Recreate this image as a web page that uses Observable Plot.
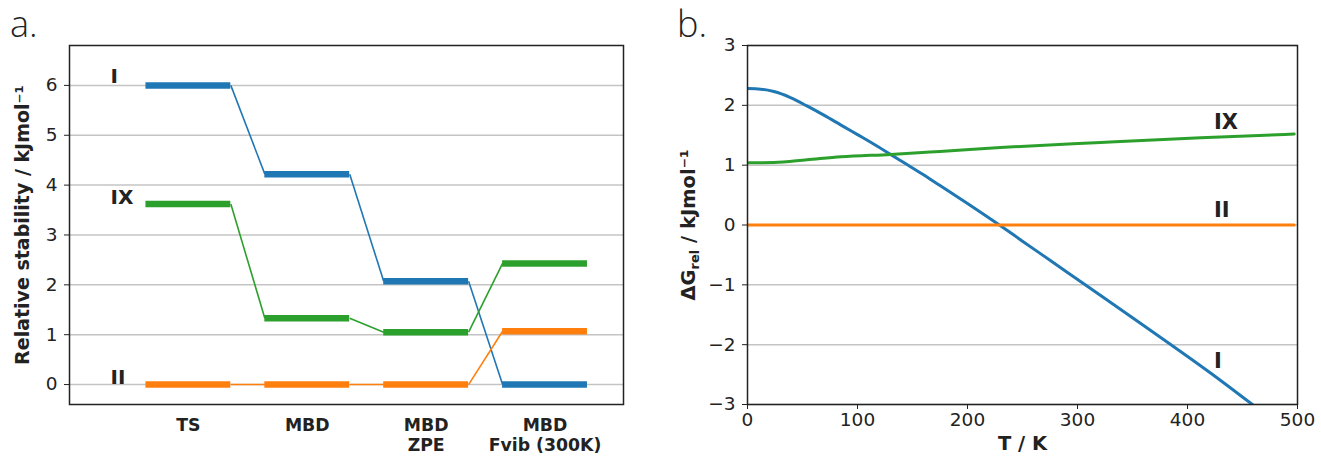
<!DOCTYPE html>
<html><head><meta charset="utf-8">
<script src="https://cdn.jsdelivr.net/npm/d3@7"></script>
<script src="https://cdn.jsdelivr.net/npm/@observablehq/plot@0.6"></script>
<style>
body{margin:0;background:#fff;}
#wrap{position:relative;width:1321px;height:459px;overflow:hidden;font-family:"DejaVu Sans",sans-serif;}
.panel{position:absolute;top:0;}
.tag{position:absolute;font-family:"Open Sans","DejaVu Sans",sans-serif;font-weight:300;font-size:36px;color:#222;line-height:1;}
</style></head><body>
<div id="wrap">
<div id="pa" class="panel" style="left:0"></div>
<div id="pb" class="panel" style="left:660px"></div>
<div class="tag" style="left:10px;top:6px">a.</div>
<div class="tag" style="left:677px;top:6px">b.</div>
</div>
<script>
// ---- Panel a data ----
const categories = ["TS", "MBD", "MBD\nZPE", "MBD\nFvib (300K)"];
const seriesNames = ["I", "IX", "II"];
const seriesColors = ["#1f77b4", "#2ca02c", "#ff7f0e"];
const stabilityI = [6.0, 4.22, 2.07, 0.0];
const stabilityIX = [3.62, 1.33, 1.05, 2.43];
const stabilityII = [0.0, 0.0, 0.0, 1.07];
const yTicksA = [0, 1, 2, 3, 4, 5, 6];
const labelYA = [6.17, 3.75, 0.14];
const labelXA = -0.655;

// ---- Panel b data ----
const tempI = [0, 12, 24, 39, 54, 69, 85, 100, 115, 130, 145, 160, 175, 200, 229, 250, 275, 307, 350, 385, 420, 459];
const dgI = [2.28, 2.27, 2.23, 2.13, 1.99, 1.84, 1.67, 1.51, 1.35, 1.18, 1.01, 0.84, 0.66, 0.36, 0.0, -0.27, -0.59, -1.0, -1.55, -2.0, -2.46, -3.0];
const tempIX = [0, 24, 54, 85, 130, 175, 230, 321, 412, 497];
const dgIX = [1.04, 1.045, 1.09, 1.14, 1.18, 1.23, 1.295, 1.38, 1.46, 1.52];
const tempII = [0, 497];
const dgII = [0.0, 0.0];
const xTicksB = [0, 100, 200, 300, 400, 500];
const yTicksB = [-3, -2, -1, 0, 1, 2, 3];
const labelTB = 424;
const labelYB = [-2.27, 1.71, 0.24];

const color = {domain: seriesNames, range: seriesColors};
const minus = d => d < 0 ? "\u2212" + Math.abs(d) : String(d);
const HW = 0.357;

// Panel a
const seriesA = [stabilityI, stabilityIX, stabilityII];
const rowsA = [], linksA = [];
seriesNames.forEach((s, k) => {
  seriesA[k].forEach((v, i) => rowsA.push({s, i, v}));
  for (let i = 0; i < categories.length - 1; i++) linksA.push({s, i, v1: seriesA[k][i], v2: seriesA[k][i + 1]});
});

const plotA = Plot.plot({
  width: 660, height: 459,
  marginLeft: 69, marginRight: 37, marginTop: 45, marginBottom: 55,
  style: {fontFamily: "DejaVu Sans, sans-serif", background: "transparent", color: "#222", overflow: "visible"},
  x: {domain: [-1.0, 3.66], axis: null},
  y: {domain: [-0.40, 6.80]},
  color,
  marks: [
    Plot.gridY(yTicksA, {stroke: "#c4c4c4", strokeOpacity: 1, strokeWidth: 1.5}),
    Plot.link(linksA, {x1: d => d.i + HW, x2: d => d.i + 1 - HW, y1: "v1", y2: "v2", stroke: "s", strokeWidth: 1.6}),
    Plot.ruleY(rowsA, {y: "v", x1: d => d.i - HW, x2: d => d.i + HW, stroke: "s", strokeWidth: 6.5}),
    Plot.axisY(yTicksA, {tickSize: 5, tickPadding: 7, fontSize: 18.5, label: null, tickFormat: minus}),
    Plot.text(categories, {x: (d, i) => i, frameAnchor: "bottom", dy: 12, lineAnchor: "top", fontWeight: "bold", fontSize: 17.3, lineHeight: 1.17}),
    Plot.text(seriesNames, {x: labelXA, y: labelYA, textAnchor: "start", fontWeight: "bold", fontSize: 20}),
    Plot.text(["Relative stability / kJmol\u207B\u00B9"], {frameAnchor: "left", textAnchor: "middle", dx: -47, rotate: -90, fontWeight: "bold", fontSize: 19}),
    Plot.frame({stroke: "#222", strokeWidth: 1.5, strokeOpacity: 1})
  ]
});
document.getElementById("pa").appendChild(plotA);

// Panel b
const rowsB = [];
[[tempI, dgI, "I"], [tempIX, dgIX, "IX"], [tempII, dgII, "II"]].forEach(([ts, vs, s]) =>
  ts.forEach((t, j) => rowsB.push({s, t, v: vs[j]})));

const plotB = Plot.plot({
  width: 661, height: 459,
  marginLeft: 87, marginRight: 24, marginTop: 45, marginBottom: 55,
  style: {fontFamily: "DejaVu Sans, sans-serif", background: "transparent", color: "#222", overflow: "visible"},
  x: {domain: [0, 500]},
  y: {domain: [-3, 3]},
  color,
  marks: [
    Plot.gridY(yTicksB, {stroke: "#c4c4c4", strokeOpacity: 1, strokeWidth: 1.5}),
    Plot.line(rowsB, {x: "t", y: "v", z: "s", stroke: "s", strokeWidth: 3, clip: true, curve: "monotone-x"}),
    Plot.axisY(yTicksB, {tickSize: 5, tickPadding: 7, fontSize: 18.5, label: null, tickFormat: minus}),
    Plot.axisX(xTicksB, {tickSize: 5, tickPadding: 3, fontSize: 18.5, label: null}),
    Plot.text(seriesNames, {x: labelTB, y: labelYB, textAnchor: "start", fontWeight: "bold", fontSize: 21}),
    Plot.text(["\u0394Grel / kJmol\u207B\u00B9"], {frameAnchor: "left", textAnchor: "middle", dx: -59, rotate: -90, fontWeight: "bold", fontSize: 19.5}),
    Plot.text(["T / K"], {frameAnchor: "bottom", dy: 45, fontWeight: "bold", fontSize: 19.5}),
    Plot.frame({stroke: "#222", strokeWidth: 1.5, strokeOpacity: 1})
  ]
});
document.getElementById("pb").appendChild(plotB);

// subscript "rel" in the ΔG label
const NS = "http://www.w3.org/2000/svg";
plotB.querySelectorAll("text").forEach(t => {
  if (t.textContent === "\u0394Grel / kJmol\u207B\u00B9") {
    t.textContent = "";
    t.appendChild(document.createTextNode("\u0394G"));
    const sub = document.createElementNS(NS, "tspan");
    sub.setAttribute("font-size", "13");
    sub.setAttribute("dy", "4");
    sub.textContent = "rel";
    t.appendChild(sub);
    const rest = document.createElementNS(NS, "tspan");
    rest.setAttribute("dy", "-4");
    rest.textContent = " / kJmol\u207B\u00B9";
    t.appendChild(rest);
  }
});
</script>
</body></html>
